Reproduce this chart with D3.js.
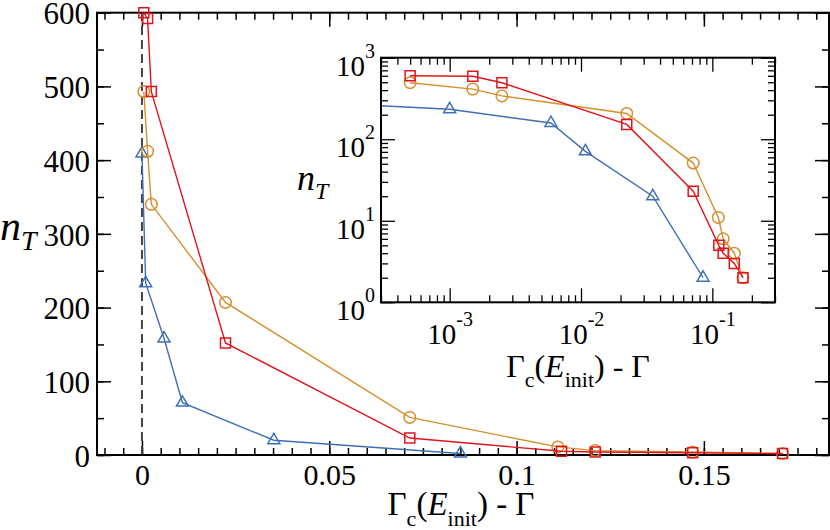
<!DOCTYPE html>
<html>
<head>
<meta charset="utf-8">
<script src="https://cdn.jsdelivr.net/npm/d3@7"></script>
<style>
  body { margin: 0; background: #fff; }
  svg text { font-family: "Liberation Serif", "Times New Roman", serif; }
</style>
</head>
<body>
<svg width="830" height="530"></svg>
<script>
// data
const redX = [0.0005, 0.0015, 0.0025, 0.0223, 0.0715, 0.112, 0.121, 0.147, 0.171];
const redY = [600, 592, 493, 152, 23, 5, 4, 3, 2];
const orangeX = [0.0005, 0.0015, 0.0025, 0.0223, 0.0715, 0.111, 0.121, 0.147, 0.171];
const orangeY = [493, 412, 340, 207, 51, 11, 6, 4, 2];
const blueX = [0.000001, 0.001, 0.0059, 0.0108, 0.0352, 0.085];
const blueY = [409, 233, 158, 71, 20, 2];

const mainXTicks = [0, 0.05, 0.1, 0.15];
const mainYTicks = [0, 100, 200, 300, 400, 500, 600];
const insetXTicks = [1e-3, 1e-2, 1e-1];
const insetYTicks = [1, 10, 100, 1000];

const svg = d3.select('svg');
const serif = '"Liberation Serif", "Times New Roman", serif';

const series = [
  {x: blueX, y: blueY, color: '#3f6fb4', shape: d3.symbolTriangle, size: 62},
  {x: orangeX, y: orangeY, color: '#d58f2c', shape: d3.symbolCircle, size: 104},
  {x: redX, y: redY, color: '#e1141c', shape: d3.symbolSquare, size: 100}
];

const styleText = (sel, size) => sel.selectAll('text')
  .style('font-family', serif)
  .style('font-size', size)
  .attr('fill', '#000');

const styleAxis = (sel, w) => {
  sel.select('.domain').remove();
  sel.selectAll('line').attr('stroke', '#000').attr('stroke-width', w);
  sel.attr('font-family', serif).attr('font-size', null);
};

const drawSeries = (g, xs, ys) => {
  series.forEach(s => {
    const pts = s.x.map((v, i) => [v, s.y[i]]);
    g.append('path')
      .datum(pts)
      .attr('fill', 'none')
      .attr('stroke', s.color)
      .attr('stroke-width', 1.4)
      .attr('d', d3.line().x(d => xs(d[0])).y(d => ys(d[1])));
    g.selectAll(null).data(pts).enter().append('path')
      .attr('transform', d => `translate(${xs(d[0])},${ys(d[1])})`)
      .attr('d', d3.symbol().type(s.shape).size(s.size))
      .attr('fill', 'none')
      .attr('stroke', s.color)
      .attr('stroke-width', 1.5);
  });
};

// ---------- main plot ----------
const m = {left: 97, right: 829, top: 12.7, bottom: 455};
const x = d3.scaleLinear().domain([-0.012, 0.1834]).range([m.left, m.right]);
const y = d3.scaleLinear().domain([0, 600]).range([m.bottom, m.top]);

const minorX = d3.range(-0.01, 0.1834, 0.005);
const minorY = d3.range(0, 601, 50);

const axes = svg.append('g');
// bottom
axes.append('g').attr('transform', `translate(0,${m.bottom})`)
  .call(d3.axisBottom(x).tickValues(minorX).tickSize(-7).tickFormat(''))
  .call(styleAxis, 1.5);
axes.append('g').attr('transform', `translate(0,${m.bottom})`)
  .call(d3.axisBottom(x).tickValues(mainXTicks).tickSize(-14).tickPadding(9).tickFormat(d => d === 0 ? '0' : String(d)))
  .call(styleAxis, 1.5).call(styleText, '30px');
// top
axes.append('g').attr('transform', `translate(0,${m.top})`)
  .call(d3.axisTop(x).tickValues(minorX).tickSize(-7).tickFormat(''))
  .call(styleAxis, 1.5);
axes.append('g').attr('transform', `translate(0,${m.top})`)
  .call(d3.axisTop(x).tickValues(mainXTicks).tickSize(-14).tickFormat(''))
  .call(styleAxis, 1.5);
// left
axes.append('g').attr('transform', `translate(${m.left},0)`)
  .call(d3.axisLeft(y).tickValues(minorY).tickSize(-7).tickFormat(''))
  .call(styleAxis, 1.5);
axes.append('g').attr('transform', `translate(${m.left},0)`)
  .call(d3.axisLeft(y).tickValues(mainYTicks).tickSize(-14).tickPadding(7))
  .call(styleAxis, 1.5).call(styleText, '31px')
  .selectAll('text').attr('dy', '0.36em');
// right
axes.append('g').attr('transform', `translate(${m.right},0)`)
  .call(d3.axisRight(y).tickValues(minorY).tickSize(-7).tickFormat(''))
  .call(styleAxis, 1.5);
axes.append('g').attr('transform', `translate(${m.right},0)`)
  .call(d3.axisRight(y).tickValues(mainYTicks).tickSize(-14).tickFormat(''))
  .call(styleAxis, 1.5);

// dashed line at zero
svg.append('line')
  .attr('x1', x(0)).attr('x2', x(0))
  .attr('y1', y(0)).attr('y2', y(600))
  .attr('stroke', '#444').attr('stroke-width', 2)
  .attr('stroke-dasharray', '9,5');

svg.append('rect')
  .attr('x', m.left).attr('y', m.top)
  .attr('width', m.right - m.left).attr('height', m.bottom - m.top)
  .attr('fill', 'none').attr('stroke', '#000').attr('stroke-width', 2);

drawSeries(svg.append('g'), x, y);

// axis titles
const xTitle = (g, cx, by, size) => {
  const sub = Math.round(size * 0.68);
  const t = g.append('text').attr('x', cx).attr('y', by)
    .attr('text-anchor', 'middle').style('font-family', serif).style('font-size', size + 'px');
  t.append('tspan').text('Γ');
  t.append('tspan').style('font-size', sub + 'px').attr('dy', size * 0.32).text('c');
  t.append('tspan').attr('dy', -size * 0.32).text('(');
  t.append('tspan').attr('font-style', 'italic').text('E');
  t.append('tspan').style('font-size', sub + 'px').attr('dy', size * 0.32).text('init');
  t.append('tspan').attr('dy', -size * 0.32).text(') - Γ');
};
const yTitle = (g, lx, by, size) => {
  const t = g.append('text').attr('x', lx).attr('y', by)
    .style('font-family', serif).style('font-size', size + 'px').attr('font-style', 'italic');
  t.append('tspan').text('n');
  t.append('tspan').style('font-size', Math.round(size * 0.66) + 'px').attr('dy', size * 0.24).text('T');
};

xTitle(svg, 461, 515, 33);
yTitle(svg, 0, 240, 42);

// ---------- inset ----------
const n = {left: 381, right: 775, top: 57.7, bottom: 302.3};
const xi = d3.scaleLog().domain([3e-4, 0.3]).range([n.left, n.right]);
const yi = d3.scaleLog().domain([1, 1000]).range([n.bottom, n.top]);

svg.append('rect')
  .attr('x', n.left).attr('y', n.top)
  .attr('width', n.right - n.left).attr('height', n.bottom - n.top)
  .attr('fill', '#fff');

const minorXi = xi.ticks().filter(v => insetXTicks.indexOf(v) < 0);
const minorYi = yi.ticks().filter(v => insetYTicks.indexOf(v) < 0);

const powLabel = (sel, anchor, dy) => {
  sel.selectAll('.tick text').each(function(d) {
    const t = d3.select(this);
    t.text(null).attr('text-anchor', anchor).attr('dy', dy);
    t.append('tspan').text('10');
    t.append('tspan').style('font-size', '20px').attr('dy', -18).text(Math.round(Math.log10(d)));
  });
};

const ia = svg.append('g');
ia.append('g').attr('transform', `translate(0,${n.bottom})`)
  .call(d3.axisBottom(xi).tickValues(minorXi).tickSize(-7).tickFormat(''))
  .call(styleAxis, 1.3);
ia.append('g').attr('transform', `translate(0,${n.bottom})`)
  .call(d3.axisBottom(xi).tickValues(insetXTicks).tickSize(-14).tickPadding(21).tickFormat(() => ''))
  .call(styleAxis, 1.3).call(styleText, '29px').call(powLabel, 'middle', '0.71em');
ia.append('g').attr('transform', `translate(0,${n.top})`)
  .call(d3.axisTop(xi).tickValues(minorXi).tickSize(-7).tickFormat(''))
  .call(styleAxis, 1.3);
ia.append('g').attr('transform', `translate(0,${n.top})`)
  .call(d3.axisTop(xi).tickValues(insetXTicks).tickSize(-14).tickFormat(''))
  .call(styleAxis, 1.3);
ia.append('g').attr('transform', `translate(${n.left},0)`)
  .call(d3.axisLeft(yi).tickValues(minorYi).tickSize(-7).tickFormat(''))
  .call(styleAxis, 1.3);
ia.append('g').attr('transform', `translate(${n.left},0)`)
  .call(d3.axisLeft(yi).tickValues(insetYTicks).tickSize(-14).tickPadding(6).tickFormat(() => ''))
  .call(styleAxis, 1.3).call(styleText, '29px').call(powLabel, 'end', '0.6em');
ia.append('g').attr('transform', `translate(${n.right},0)`)
  .call(d3.axisRight(yi).tickValues(minorYi).tickSize(-7).tickFormat(''))
  .call(styleAxis, 1.3);
ia.append('g').attr('transform', `translate(${n.right},0)`)
  .call(d3.axisRight(yi).tickValues(insetYTicks).tickSize(-14).tickFormat(''))
  .call(styleAxis, 1.3);

svg.append('clipPath').attr('id', 'inset-clip')
  .append('rect')
  .attr('x', n.left).attr('y', n.top)
  .attr('width', n.right - n.left).attr('height', n.bottom - n.top);

drawSeries(svg.append('g').attr('clip-path', 'url(#inset-clip)'), xi, yi);

svg.append('rect')
  .attr('x', n.left).attr('y', n.top)
  .attr('width', n.right - n.left).attr('height', n.bottom - n.top)
  .attr('fill', 'none').attr('stroke', '#000').attr('stroke-width', 2);

xTitle(svg, 578, 377, 32);
yTitle(svg, 297, 190, 36);
</script>
</body>
</html>
